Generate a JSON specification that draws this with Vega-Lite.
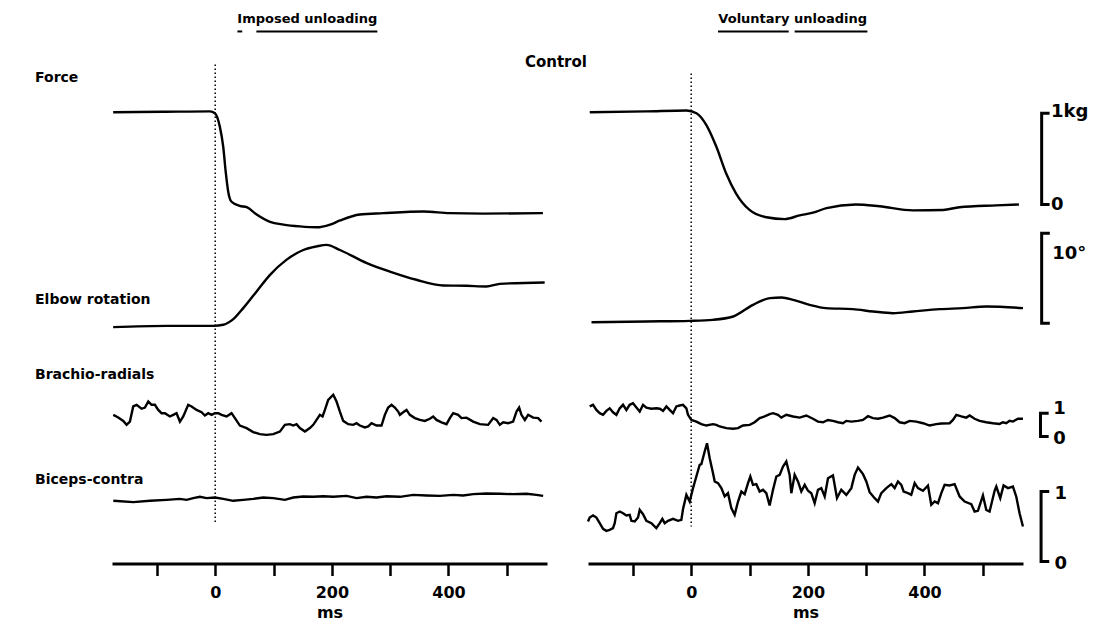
{
  "$schema": "https://vega.github.io/schema/vega-lite/v6.json",
  "padding": {"left": 35, "top": 12.5, "right": 5, "bottom": 5},
  "background": "white",
  "config": {"view": {"stroke": null}, "font": "DejaVu Sans", "text": {"color": "black"}},
  "datasets": {
    "traces": [
      {"condition":"Imposed","signal":"Force","ms":-175,"value":1.01},{"condition":"Imposed","signal":"Force","ms":-90,"value":1.015},{"condition":"Imposed","signal":"Force","ms":-9,"value":1.02},{"condition":"Imposed","signal":"Force","ms":-0.5,"value":1.0},{"condition":"Imposed","signal":"Force","ms":8,"value":0.85},{"condition":"Imposed","signal":"Force","ms":13.7,"value":0.635},{"condition":"Imposed","signal":"Force","ms":18.3,"value":0.34},{"condition":"Imposed","signal":"Force","ms":22.3,"value":0.14},{"condition":"Imposed","signal":"Force","ms":28,"value":0.03},{"condition":"Imposed","signal":"Force","ms":42,"value":-0.015},{"condition":"Imposed","signal":"Force","ms":54,"value":-0.03},{"condition":"Imposed","signal":"Force","ms":71,"value":-0.11},{"condition":"Imposed","signal":"Force","ms":94,"value":-0.19},{"condition":"Imposed","signal":"Force","ms":117,"value":-0.22},{"condition":"Imposed","signal":"Force","ms":145,"value":-0.24},{"condition":"Imposed","signal":"Force","ms":174,"value":-0.25},{"condition":"Imposed","signal":"Force","ms":197,"value":-0.22},{"condition":"Imposed","signal":"Force","ms":214,"value":-0.175},{"condition":"Imposed","signal":"Force","ms":248,"value":-0.11},{"condition":"Imposed","signal":"Force","ms":288,"value":-0.095},{"condition":"Imposed","signal":"Force","ms":357,"value":-0.077},{"condition":"Imposed","signal":"Force","ms":402,"value":-0.095},{"condition":"Imposed","signal":"Force","ms":459,"value":-0.1},{"condition":"Imposed","signal":"Force","ms":562,"value":-0.095},

      {"condition":"Voluntary","signal":"Force","ms":-174,"value":1.01},{"condition":"Voluntary","signal":"Force","ms":-77,"value":1.02},{"condition":"Voluntary","signal":"Force","ms":-8,"value":1.03},{"condition":"Voluntary","signal":"Force","ms":9,"value":1.0},{"condition":"Voluntary","signal":"Force","ms":26,"value":0.87},{"condition":"Voluntary","signal":"Force","ms":43,"value":0.635},{"condition":"Voluntary","signal":"Force","ms":60,"value":0.34},{"condition":"Voluntary","signal":"Force","ms":77,"value":0.12},{"condition":"Voluntary","signal":"Force","ms":100,"value":-0.06},{"condition":"Voluntary","signal":"Force","ms":129,"value":-0.14},{"condition":"Voluntary","signal":"Force","ms":160,"value":-0.16},{"condition":"Voluntary","signal":"Force","ms":186,"value":-0.12},{"condition":"Voluntary","signal":"Force","ms":209,"value":-0.09},{"condition":"Voluntary","signal":"Force","ms":232,"value":-0.04},{"condition":"Voluntary","signal":"Force","ms":282,"value":0.0},{"condition":"Voluntary","signal":"Force","ms":323,"value":-0.02},{"condition":"Voluntary","signal":"Force","ms":380,"value":-0.065},{"condition":"Voluntary","signal":"Force","ms":432,"value":-0.06},{"condition":"Voluntary","signal":"Force","ms":460,"value":-0.03},{"condition":"Voluntary","signal":"Force","ms":523,"value":-0.01},{"condition":"Voluntary","signal":"Force","ms":562,"value":0.0},

      {"condition":"Imposed","signal":"Elbow","ms":-175,"value":-0.07},{"condition":"Imposed","signal":"Elbow","ms":-83,"value":0.07},{"condition":"Imposed","signal":"Elbow","ms":-3,"value":0.07},{"condition":"Imposed","signal":"Elbow","ms":14,"value":0.19},{"condition":"Imposed","signal":"Elbow","ms":31,"value":0.81},{"condition":"Imposed","signal":"Elbow","ms":48,"value":2.04},{"condition":"Imposed","signal":"Elbow","ms":71,"value":3.9},{"condition":"Imposed","signal":"Elbow","ms":94,"value":5.74},{"condition":"Imposed","signal":"Elbow","ms":122,"value":7.4},{"condition":"Imposed","signal":"Elbow","ms":151,"value":8.5},{"condition":"Imposed","signal":"Elbow","ms":174,"value":8.9},{"condition":"Imposed","signal":"Elbow","ms":191,"value":9.07},{"condition":"Imposed","signal":"Elbow","ms":214,"value":8.5},{"condition":"Imposed","signal":"Elbow","ms":260,"value":7.04},{"condition":"Imposed","signal":"Elbow","ms":299.5,"value":6.1},{"condition":"Imposed","signal":"Elbow","ms":345,"value":5.19},{"condition":"Imposed","signal":"Elbow","ms":391,"value":4.56},{"condition":"Imposed","signal":"Elbow","ms":431,"value":4.52},{"condition":"Imposed","signal":"Elbow","ms":465,"value":4.44},{"condition":"Imposed","signal":"Elbow","ms":488,"value":4.74},{"condition":"Imposed","signal":"Elbow","ms":565,"value":4.89},

      {"condition":"Voluntary","signal":"Elbow","ms":-171,"value":0.48},{"condition":"Voluntary","signal":"Elbow","ms":-77,"value":0.56},{"condition":"Voluntary","signal":"Elbow","ms":-2.5,"value":0.63},{"condition":"Voluntary","signal":"Elbow","ms":37,"value":0.74},{"condition":"Voluntary","signal":"Elbow","ms":72,"value":1.11},{"condition":"Voluntary","signal":"Elbow","ms":106,"value":2.41},{"condition":"Voluntary","signal":"Elbow","ms":135,"value":3.15},{"condition":"Voluntary","signal":"Elbow","ms":155,"value":3.22},{"condition":"Voluntary","signal":"Elbow","ms":175,"value":2.96},{"condition":"Voluntary","signal":"Elbow","ms":203,"value":2.41},{"condition":"Voluntary","signal":"Elbow","ms":231,"value":2.04},{"condition":"Voluntary","signal":"Elbow","ms":277,"value":1.93},{"condition":"Voluntary","signal":"Elbow","ms":312,"value":1.67},{"condition":"Voluntary","signal":"Elbow","ms":346,"value":1.48},{"condition":"Voluntary","signal":"Elbow","ms":380,"value":1.67},{"condition":"Voluntary","signal":"Elbow","ms":426,"value":1.93},{"condition":"Voluntary","signal":"Elbow","ms":466,"value":2.04},{"condition":"Voluntary","signal":"Elbow","ms":506,"value":2.22},{"condition":"Voluntary","signal":"Elbow","ms":569,"value":2.04},

      {"condition":"Imposed","signal":"Brachio","ms":-174.8,"value":0.93},{"condition":"Imposed","signal":"Brachio","ms":-166.3,"value":0.815},{"condition":"Imposed","signal":"Brachio","ms":-157.7,"value":0.67},{"condition":"Imposed","signal":"Brachio","ms":-152,"value":0.5},{"condition":"Imposed","signal":"Brachio","ms":-146.3,"value":0.64},{"condition":"Imposed","signal":"Brachio","ms":-140.6,"value":1.29},{"condition":"Imposed","signal":"Brachio","ms":-134.8,"value":1.36},{"condition":"Imposed","signal":"Brachio","ms":-126.3,"value":1.19},{"condition":"Imposed","signal":"Brachio","ms":-120.5,"value":1.24},{"condition":"Imposed","signal":"Brachio","ms":-114.8,"value":1.5},{"condition":"Imposed","signal":"Brachio","ms":-109.1,"value":1.36},{"condition":"Imposed","signal":"Brachio","ms":-103.4,"value":1.36},{"condition":"Imposed","signal":"Brachio","ms":-97.7,"value":1.14},{"condition":"Imposed","signal":"Brachio","ms":-92,"value":1.0},{"condition":"Imposed","signal":"Brachio","ms":-86.3,"value":1.0},{"condition":"Imposed","signal":"Brachio","ms":-77.7,"value":0.86},{"condition":"Imposed","signal":"Brachio","ms":-72,"value":0.93},{"condition":"Imposed","signal":"Brachio","ms":-66.3,"value":1.0},{"condition":"Imposed","signal":"Brachio","ms":-60.5,"value":0.64},{"condition":"Imposed","signal":"Brachio","ms":-54.8,"value":0.86},{"condition":"Imposed","signal":"Brachio","ms":-46.3,"value":1.36},{"condition":"Imposed","signal":"Brachio","ms":-40.5,"value":1.29},{"condition":"Imposed","signal":"Brachio","ms":-32,"value":1.14},{"condition":"Imposed","signal":"Brachio","ms":-23.4,"value":1.04},{"condition":"Imposed","signal":"Brachio","ms":-17.7,"value":0.9},{"condition":"Imposed","signal":"Brachio","ms":-12,"value":1.0},{"condition":"Imposed","signal":"Brachio","ms":-6.2,"value":0.93},{"condition":"Imposed","signal":"Brachio","ms":-0.5,"value":1.0},{"condition":"Imposed","signal":"Brachio","ms":5.2,"value":1.0},{"condition":"Imposed","signal":"Brachio","ms":10.9,"value":0.93},{"condition":"Imposed","signal":"Brachio","ms":19.5,"value":0.86},{"condition":"Imposed","signal":"Brachio","ms":28,"value":1.0},{"condition":"Imposed","signal":"Brachio","ms":33.8,"value":0.79},{"condition":"Imposed","signal":"Brachio","ms":42.3,"value":0.47},{"condition":"Imposed","signal":"Brachio","ms":53.8,"value":0.36},{"condition":"Imposed","signal":"Brachio","ms":65.2,"value":0.19},{"condition":"Imposed","signal":"Brachio","ms":76.6,"value":0.1},{"condition":"Imposed","signal":"Brachio","ms":88,"value":0.07},{"condition":"Imposed","signal":"Brachio","ms":99.5,"value":0.1},{"condition":"Imposed","signal":"Brachio","ms":110.9,"value":0.21},{"condition":"Imposed","signal":"Brachio","ms":119.5,"value":0.5},{"condition":"Imposed","signal":"Brachio","ms":128,"value":0.53},{"condition":"Imposed","signal":"Brachio","ms":133.8,"value":0.47},{"condition":"Imposed","signal":"Brachio","ms":139.5,"value":0.53},{"condition":"Imposed","signal":"Brachio","ms":145.2,"value":0.36},{"condition":"Imposed","signal":"Brachio","ms":153.8,"value":0.21},{"condition":"Imposed","signal":"Brachio","ms":162.3,"value":0.36},{"condition":"Imposed","signal":"Brachio","ms":168.1,"value":0.5},{"condition":"Imposed","signal":"Brachio","ms":173.8,"value":0.71},{"condition":"Imposed","signal":"Brachio","ms":179.5,"value":0.93},{"condition":"Imposed","signal":"Brachio","ms":184.1,"value":0.86},{"condition":"Imposed","signal":"Brachio","ms":188.1,"value":1.14},{"condition":"Imposed","signal":"Brachio","ms":193.8,"value":1.57},{"condition":"Imposed","signal":"Brachio","ms":202.4,"value":1.79},{"condition":"Imposed","signal":"Brachio","ms":208.1,"value":1.5},{"condition":"Imposed","signal":"Brachio","ms":213.8,"value":1.07},{"condition":"Imposed","signal":"Brachio","ms":219.5,"value":0.67},{"condition":"Imposed","signal":"Brachio","ms":228.1,"value":0.53},{"condition":"Imposed","signal":"Brachio","ms":236.6,"value":0.5},{"condition":"Imposed","signal":"Brachio","ms":242.4,"value":0.57},{"condition":"Imposed","signal":"Brachio","ms":248.1,"value":0.47},{"condition":"Imposed","signal":"Brachio","ms":256.6,"value":0.39},{"condition":"Imposed","signal":"Brachio","ms":262.4,"value":0.43},{"condition":"Imposed","signal":"Brachio","ms":268.1,"value":0.57},{"condition":"Imposed","signal":"Brachio","ms":276.6,"value":0.47},{"condition":"Imposed","signal":"Brachio","ms":285.2,"value":0.47},{"condition":"Imposed","signal":"Brachio","ms":290.9,"value":0.93},{"condition":"Imposed","signal":"Brachio","ms":296.6,"value":1.24},{"condition":"Imposed","signal":"Brachio","ms":302.4,"value":1.36},{"condition":"Imposed","signal":"Brachio","ms":308.1,"value":1.24},{"condition":"Imposed","signal":"Brachio","ms":313.8,"value":1.07},{"condition":"Imposed","signal":"Brachio","ms":316.7,"value":0.93},{"condition":"Imposed","signal":"Brachio","ms":322.4,"value":1.04},{"condition":"Imposed","signal":"Brachio","ms":328.1,"value":1.14},{"condition":"Imposed","signal":"Brachio","ms":333.8,"value":0.93},{"condition":"Imposed","signal":"Brachio","ms":342.4,"value":0.79},{"condition":"Imposed","signal":"Brachio","ms":351,"value":0.71},{"condition":"Imposed","signal":"Brachio","ms":359.5,"value":0.67},{"condition":"Imposed","signal":"Brachio","ms":368.1,"value":0.76},{"condition":"Imposed","signal":"Brachio","ms":373.8,"value":0.86},{"condition":"Imposed","signal":"Brachio","ms":379.5,"value":0.71},{"condition":"Imposed","signal":"Brachio","ms":388.1,"value":0.61},{"condition":"Imposed","signal":"Brachio","ms":396.7,"value":0.53},{"condition":"Imposed","signal":"Brachio","ms":402.4,"value":0.79},{"condition":"Imposed","signal":"Brachio","ms":408.1,"value":1.0},{"condition":"Imposed","signal":"Brachio","ms":416.6,"value":0.93},{"condition":"Imposed","signal":"Brachio","ms":422.4,"value":0.79},{"condition":"Imposed","signal":"Brachio","ms":430.9,"value":0.81},{"condition":"Imposed","signal":"Brachio","ms":442.4,"value":0.64},{"condition":"Imposed","signal":"Brachio","ms":453.8,"value":0.53},{"condition":"Imposed","signal":"Brachio","ms":468.1,"value":0.5},{"condition":"Imposed","signal":"Brachio","ms":476.7,"value":0.79},{"condition":"Imposed","signal":"Brachio","ms":482.4,"value":0.71},{"condition":"Imposed","signal":"Brachio","ms":488.1,"value":0.5},{"condition":"Imposed","signal":"Brachio","ms":493.8,"value":0.61},{"condition":"Imposed","signal":"Brachio","ms":502.4,"value":0.57},{"condition":"Imposed","signal":"Brachio","ms":510.9,"value":0.64},{"condition":"Imposed","signal":"Brachio","ms":516.7,"value":1.07},{"condition":"Imposed","signal":"Brachio","ms":521.2,"value":1.24},{"condition":"Imposed","signal":"Brachio","ms":525.2,"value":0.93},{"condition":"Imposed","signal":"Brachio","ms":531,"value":0.71},{"condition":"Imposed","signal":"Brachio","ms":536.7,"value":0.93},{"condition":"Imposed","signal":"Brachio","ms":545.3,"value":0.81},{"condition":"Imposed","signal":"Brachio","ms":553.8,"value":0.79},{"condition":"Imposed","signal":"Brachio","ms":559.5,"value":0.64},

      {"condition":"Voluntary","signal":"Brachio","ms":-174.1,"value":1.29},{"condition":"Voluntary","signal":"Brachio","ms":-168.3,"value":1.36},{"condition":"Voluntary","signal":"Brachio","ms":-162.6,"value":1.14},{"condition":"Voluntary","signal":"Brachio","ms":-156.9,"value":1.0},{"condition":"Voluntary","signal":"Brachio","ms":-151.2,"value":0.93},{"condition":"Voluntary","signal":"Brachio","ms":-145.5,"value":1.1},{"condition":"Voluntary","signal":"Brachio","ms":-139.8,"value":1.21},{"condition":"Voluntary","signal":"Brachio","ms":-134.1,"value":1.04},{"condition":"Voluntary","signal":"Brachio","ms":-128.3,"value":0.93},{"condition":"Voluntary","signal":"Brachio","ms":-122.6,"value":1.21},{"condition":"Voluntary","signal":"Brachio","ms":-116.9,"value":1.36},{"condition":"Voluntary","signal":"Brachio","ms":-111.2,"value":1.14},{"condition":"Voluntary","signal":"Brachio","ms":-105.5,"value":1.36},{"condition":"Voluntary","signal":"Brachio","ms":-99.8,"value":1.43},{"condition":"Voluntary","signal":"Brachio","ms":-94,"value":1.24},{"condition":"Voluntary","signal":"Brachio","ms":-88.3,"value":1.07},{"condition":"Voluntary","signal":"Brachio","ms":-82.6,"value":1.36},{"condition":"Voluntary","signal":"Brachio","ms":-76.9,"value":1.24},{"condition":"Voluntary","signal":"Brachio","ms":-68.3,"value":1.19},{"condition":"Voluntary","signal":"Brachio","ms":-59.8,"value":1.21},{"condition":"Voluntary","signal":"Brachio","ms":-54,"value":1.19},{"condition":"Voluntary","signal":"Brachio","ms":-48.3,"value":1.1},{"condition":"Voluntary","signal":"Brachio","ms":-42.6,"value":1.29},{"condition":"Voluntary","signal":"Brachio","ms":-36.9,"value":1.14},{"condition":"Voluntary","signal":"Brachio","ms":-31.2,"value":1.0},{"condition":"Voluntary","signal":"Brachio","ms":-25.5,"value":1.29},{"condition":"Voluntary","signal":"Brachio","ms":-19.8,"value":1.33},{"condition":"Voluntary","signal":"Brachio","ms":-14,"value":1.36},{"condition":"Voluntary","signal":"Brachio","ms":-8.3,"value":1.21},{"condition":"Voluntary","signal":"Brachio","ms":-5.5,"value":0.93},{"condition":"Voluntary","signal":"Brachio","ms":0.3,"value":0.71},{"condition":"Voluntary","signal":"Brachio","ms":8.8,"value":0.64},{"condition":"Voluntary","signal":"Brachio","ms":17.4,"value":0.53},{"condition":"Voluntary","signal":"Brachio","ms":26,"value":0.47},{"condition":"Voluntary","signal":"Brachio","ms":37.4,"value":0.53},{"condition":"Voluntary","signal":"Brachio","ms":43.1,"value":0.5},{"condition":"Voluntary","signal":"Brachio","ms":48.8,"value":0.43},{"condition":"Voluntary","signal":"Brachio","ms":60.3,"value":0.36},{"condition":"Voluntary","signal":"Brachio","ms":71.7,"value":0.33},{"condition":"Voluntary","signal":"Brachio","ms":80.3,"value":0.36},{"condition":"Voluntary","signal":"Brachio","ms":88.8,"value":0.47},{"condition":"Voluntary","signal":"Brachio","ms":100.3,"value":0.5},{"condition":"Voluntary","signal":"Brachio","ms":108.8,"value":0.61},{"condition":"Voluntary","signal":"Brachio","ms":117.4,"value":0.79},{"condition":"Voluntary","signal":"Brachio","ms":126,"value":0.86},{"condition":"Voluntary","signal":"Brachio","ms":134.5,"value":0.96},{"condition":"Voluntary","signal":"Brachio","ms":140.3,"value":1.0},{"condition":"Voluntary","signal":"Brachio","ms":148.8,"value":0.93},{"condition":"Voluntary","signal":"Brachio","ms":154.6,"value":0.81},{"condition":"Voluntary","signal":"Brachio","ms":163.1,"value":0.93},{"condition":"Voluntary","signal":"Brachio","ms":174.6,"value":0.86},{"condition":"Voluntary","signal":"Brachio","ms":186,"value":0.81},{"condition":"Voluntary","signal":"Brachio","ms":197.4,"value":0.9},{"condition":"Voluntary","signal":"Brachio","ms":208.8,"value":0.76},{"condition":"Voluntary","signal":"Brachio","ms":217.4,"value":0.64},{"condition":"Voluntary","signal":"Brachio","ms":226,"value":0.61},{"condition":"Voluntary","signal":"Brachio","ms":234.5,"value":0.71},{"condition":"Voluntary","signal":"Brachio","ms":243.1,"value":0.67},{"condition":"Voluntary","signal":"Brachio","ms":251.7,"value":0.61},{"condition":"Voluntary","signal":"Brachio","ms":260.3,"value":0.57},{"condition":"Voluntary","signal":"Brachio","ms":266,"value":0.67},{"condition":"Voluntary","signal":"Brachio","ms":274.6,"value":0.64},{"condition":"Voluntary","signal":"Brachio","ms":286,"value":0.67},{"condition":"Voluntary","signal":"Brachio","ms":294.6,"value":0.71},{"condition":"Voluntary","signal":"Brachio","ms":303.1,"value":0.87},{"condition":"Voluntary","signal":"Brachio","ms":311.7,"value":0.79},{"condition":"Voluntary","signal":"Brachio","ms":320.3,"value":0.76},{"condition":"Voluntary","signal":"Brachio","ms":328.9,"value":0.81},{"condition":"Voluntary","signal":"Brachio","ms":340.3,"value":0.9},{"condition":"Voluntary","signal":"Brachio","ms":348.9,"value":0.79},{"condition":"Voluntary","signal":"Brachio","ms":357.4,"value":0.61},{"condition":"Voluntary","signal":"Brachio","ms":366,"value":0.57},{"condition":"Voluntary","signal":"Brachio","ms":374.6,"value":0.67},{"condition":"Voluntary","signal":"Brachio","ms":386,"value":0.64},{"condition":"Voluntary","signal":"Brachio","ms":397.5,"value":0.57},{"condition":"Voluntary","signal":"Brachio","ms":408.9,"value":0.47},{"condition":"Voluntary","signal":"Brachio","ms":420.3,"value":0.53},{"condition":"Voluntary","signal":"Brachio","ms":428.9,"value":0.56},{"condition":"Voluntary","signal":"Brachio","ms":443.2,"value":0.57},{"condition":"Voluntary","signal":"Brachio","ms":448.9,"value":0.71},{"condition":"Voluntary","signal":"Brachio","ms":454.6,"value":0.93},{"condition":"Voluntary","signal":"Brachio","ms":463.2,"value":0.86},{"condition":"Voluntary","signal":"Brachio","ms":471.7,"value":0.81},{"condition":"Voluntary","signal":"Brachio","ms":477.5,"value":0.9},{"condition":"Voluntary","signal":"Brachio","ms":486,"value":0.76},{"condition":"Voluntary","signal":"Brachio","ms":494.6,"value":0.67},{"condition":"Voluntary","signal":"Brachio","ms":506,"value":0.61},{"condition":"Voluntary","signal":"Brachio","ms":517.5,"value":0.57},{"condition":"Voluntary","signal":"Brachio","ms":528.9,"value":0.54},{"condition":"Voluntary","signal":"Brachio","ms":534.6,"value":0.61},{"condition":"Voluntary","signal":"Brachio","ms":540.3,"value":0.57},{"condition":"Voluntary","signal":"Brachio","ms":546,"value":0.67},{"condition":"Voluntary","signal":"Brachio","ms":551.7,"value":0.64},{"condition":"Voluntary","signal":"Brachio","ms":560.3,"value":0.76},{"condition":"Voluntary","signal":"Brachio","ms":568.9,"value":0.76},

      {"condition":"Imposed","signal":"Biceps","ms":-174.8,"value":0.867},{"condition":"Imposed","signal":"Biceps","ms":-140.6,"value":0.848},{"condition":"Imposed","signal":"Biceps","ms":-112,"value":0.867},{"condition":"Imposed","signal":"Biceps","ms":-83.4,"value":0.881},{"condition":"Imposed","signal":"Biceps","ms":-60.5,"value":0.895},{"condition":"Imposed","signal":"Biceps","ms":-49.1,"value":0.881},{"condition":"Imposed","signal":"Biceps","ms":-37.7,"value":0.905},{"condition":"Imposed","signal":"Biceps","ms":-26.3,"value":0.924},{"condition":"Imposed","signal":"Biceps","ms":-14.8,"value":0.905},{"condition":"Imposed","signal":"Biceps","ms":-0.5,"value":0.914},{"condition":"Imposed","signal":"Biceps","ms":13.8,"value":0.895},{"condition":"Imposed","signal":"Biceps","ms":30.9,"value":0.867},{"condition":"Imposed","signal":"Biceps","ms":48,"value":0.881},{"condition":"Imposed","signal":"Biceps","ms":65.2,"value":0.895},{"condition":"Imposed","signal":"Biceps","ms":82.3,"value":0.914},{"condition":"Imposed","signal":"Biceps","ms":99.5,"value":0.905},{"condition":"Imposed","signal":"Biceps","ms":119.5,"value":0.881},{"condition":"Imposed","signal":"Biceps","ms":133.8,"value":0.914},{"condition":"Imposed","signal":"Biceps","ms":150.9,"value":0.929},{"condition":"Imposed","signal":"Biceps","ms":168.1,"value":0.924},{"condition":"Imposed","signal":"Biceps","ms":185.2,"value":0.933},{"condition":"Imposed","signal":"Biceps","ms":202.4,"value":0.924},{"condition":"Imposed","signal":"Biceps","ms":225.2,"value":0.938},{"condition":"Imposed","signal":"Biceps","ms":242.4,"value":0.905},{"condition":"Imposed","signal":"Biceps","ms":259.5,"value":0.924},{"condition":"Imposed","signal":"Biceps","ms":276.6,"value":0.914},{"condition":"Imposed","signal":"Biceps","ms":293.8,"value":0.933},{"condition":"Imposed","signal":"Biceps","ms":316.7,"value":0.924},{"condition":"Imposed","signal":"Biceps","ms":339.5,"value":0.952},{"condition":"Imposed","signal":"Biceps","ms":362.4,"value":0.943},{"condition":"Imposed","signal":"Biceps","ms":385.2,"value":0.938},{"condition":"Imposed","signal":"Biceps","ms":408.1,"value":0.952},{"condition":"Imposed","signal":"Biceps","ms":425.2,"value":0.943},{"condition":"Imposed","signal":"Biceps","ms":442.4,"value":0.962},{"condition":"Imposed","signal":"Biceps","ms":465.2,"value":0.971},{"condition":"Imposed","signal":"Biceps","ms":488.1,"value":0.967},{"condition":"Imposed","signal":"Biceps","ms":510.9,"value":0.962},{"condition":"Imposed","signal":"Biceps","ms":533.8,"value":0.967},{"condition":"Imposed","signal":"Biceps","ms":550.9,"value":0.952},{"condition":"Imposed","signal":"Biceps","ms":562.4,"value":0.938},

      {"condition":"Voluntary","signal":"Biceps","ms":-177,"value":0.571},{"condition":"Voluntary","signal":"Biceps","ms":-174.1,"value":0.628},{"condition":"Voluntary","signal":"Biceps","ms":-168.3,"value":0.657},{"condition":"Voluntary","signal":"Biceps","ms":-162.6,"value":0.628},{"condition":"Voluntary","signal":"Biceps","ms":-156.9,"value":0.548},{"condition":"Voluntary","signal":"Biceps","ms":-151.2,"value":0.467},{"condition":"Voluntary","signal":"Biceps","ms":-145.5,"value":0.438},{"condition":"Voluntary","signal":"Biceps","ms":-139.8,"value":0.452},{"condition":"Voluntary","signal":"Biceps","ms":-134.1,"value":0.476},{"condition":"Voluntary","signal":"Biceps","ms":-131.2,"value":0.548},{"condition":"Voluntary","signal":"Biceps","ms":-128.3,"value":0.69},{"condition":"Voluntary","signal":"Biceps","ms":-122.6,"value":0.714},{"condition":"Voluntary","signal":"Biceps","ms":-116.9,"value":0.69},{"condition":"Voluntary","signal":"Biceps","ms":-111.2,"value":0.657},{"condition":"Voluntary","signal":"Biceps","ms":-105.5,"value":0.667},{"condition":"Voluntary","signal":"Biceps","ms":-102.6,"value":0.581},{"condition":"Voluntary","signal":"Biceps","ms":-96.9,"value":0.571},{"condition":"Voluntary","signal":"Biceps","ms":-91.2,"value":0.628},{"condition":"Voluntary","signal":"Biceps","ms":-88.3,"value":0.738},{"condition":"Voluntary","signal":"Biceps","ms":-82.6,"value":0.676},{"condition":"Voluntary","signal":"Biceps","ms":-76.9,"value":0.581},{"condition":"Voluntary","signal":"Biceps","ms":-68.3,"value":0.548},{"condition":"Voluntary","signal":"Biceps","ms":-59.8,"value":0.476},{"condition":"Voluntary","signal":"Biceps","ms":-54,"value":0.548},{"condition":"Voluntary","signal":"Biceps","ms":-49.5,"value":0.609},{"condition":"Voluntary","signal":"Biceps","ms":-45.5,"value":0.548},{"condition":"Voluntary","signal":"Biceps","ms":-39.8,"value":0.581},{"condition":"Voluntary","signal":"Biceps","ms":-31.2,"value":0.609},{"condition":"Voluntary","signal":"Biceps","ms":-22.6,"value":0.581},{"condition":"Voluntary","signal":"Biceps","ms":-16.9,"value":0.595},{"condition":"Voluntary","signal":"Biceps","ms":-14,"value":0.752},{"condition":"Voluntary","signal":"Biceps","ms":-8.3,"value":0.952},{"condition":"Voluntary","signal":"Biceps","ms":-2.6,"value":0.857},{"condition":"Voluntary","signal":"Biceps","ms":3.1,"value":1.048},{"condition":"Voluntary","signal":"Biceps","ms":8.8,"value":1.214},{"condition":"Voluntary","signal":"Biceps","ms":14.5,"value":1.381},{"condition":"Voluntary","signal":"Biceps","ms":17.4,"value":1.39},{"condition":"Voluntary","signal":"Biceps","ms":23.1,"value":1.571},{"condition":"Voluntary","signal":"Biceps","ms":27.1,"value":1.69},{"condition":"Voluntary","signal":"Biceps","ms":31.7,"value":1.476},{"condition":"Voluntary","signal":"Biceps","ms":37.4,"value":1.262},{"condition":"Voluntary","signal":"Biceps","ms":40.3,"value":1.143},{"condition":"Voluntary","signal":"Biceps","ms":46,"value":1.119},{"condition":"Voluntary","signal":"Biceps","ms":51.7,"value":1.048},{"condition":"Voluntary","signal":"Biceps","ms":57.4,"value":0.929},{"condition":"Voluntary","signal":"Biceps","ms":63.1,"value":0.976},{"condition":"Voluntary","signal":"Biceps","ms":68.8,"value":0.762},{"condition":"Voluntary","signal":"Biceps","ms":74.5,"value":0.667},{"condition":"Voluntary","signal":"Biceps","ms":80.3,"value":0.857},{"condition":"Voluntary","signal":"Biceps","ms":86,"value":1.0},{"condition":"Voluntary","signal":"Biceps","ms":91.7,"value":0.962},{"condition":"Voluntary","signal":"Biceps","ms":97.4,"value":1.119},{"condition":"Voluntary","signal":"Biceps","ms":101.4,"value":1.214},{"condition":"Voluntary","signal":"Biceps","ms":106,"value":1.095},{"condition":"Voluntary","signal":"Biceps","ms":111.7,"value":1.105},{"condition":"Voluntary","signal":"Biceps","ms":117.4,"value":1.0},{"condition":"Voluntary","signal":"Biceps","ms":123.1,"value":1.024},{"condition":"Voluntary","signal":"Biceps","ms":128.8,"value":0.976},{"condition":"Voluntary","signal":"Biceps","ms":134.5,"value":0.8},{"condition":"Voluntary","signal":"Biceps","ms":140.3,"value":1.024},{"condition":"Voluntary","signal":"Biceps","ms":146,"value":1.214},{"condition":"Voluntary","signal":"Biceps","ms":151.7,"value":1.238},{"condition":"Voluntary","signal":"Biceps","ms":157.4,"value":1.357},{"condition":"Voluntary","signal":"Biceps","ms":163.1,"value":1.428},{"condition":"Voluntary","signal":"Biceps","ms":168.8,"value":1.238},{"condition":"Voluntary","signal":"Biceps","ms":171.7,"value":0.976},{"condition":"Voluntary","signal":"Biceps","ms":177.4,"value":1.238},{"condition":"Voluntary","signal":"Biceps","ms":183.1,"value":1.143},{"condition":"Voluntary","signal":"Biceps","ms":188.8,"value":1.0},{"condition":"Voluntary","signal":"Biceps","ms":194.6,"value":1.095},{"condition":"Voluntary","signal":"Biceps","ms":200.3,"value":1.01},{"condition":"Voluntary","signal":"Biceps","ms":206,"value":0.976},{"condition":"Voluntary","signal":"Biceps","ms":211.7,"value":0.833},{"condition":"Voluntary","signal":"Biceps","ms":217.4,"value":1.024},{"condition":"Voluntary","signal":"Biceps","ms":223.1,"value":1.048},{"condition":"Voluntary","signal":"Biceps","ms":228.9,"value":0.929},{"condition":"Voluntary","signal":"Biceps","ms":234.6,"value":1.19},{"condition":"Voluntary","signal":"Biceps","ms":243.1,"value":1.229},{"condition":"Voluntary","signal":"Biceps","ms":250,"value":0.905},{"condition":"Voluntary","signal":"Biceps","ms":257.4,"value":1.024},{"condition":"Voluntary","signal":"Biceps","ms":266,"value":0.952},{"condition":"Voluntary","signal":"Biceps","ms":274.6,"value":1.048},{"condition":"Voluntary","signal":"Biceps","ms":280.3,"value":1.238},{"condition":"Voluntary","signal":"Biceps","ms":286,"value":1.343},{"condition":"Voluntary","signal":"Biceps","ms":294.6,"value":1.248},{"condition":"Voluntary","signal":"Biceps","ms":300.3,"value":1.143},{"condition":"Voluntary","signal":"Biceps","ms":306,"value":0.99},{"condition":"Voluntary","signal":"Biceps","ms":314.6,"value":0.905},{"condition":"Voluntary","signal":"Biceps","ms":320.3,"value":0.857},{"condition":"Voluntary","signal":"Biceps","ms":326,"value":0.976},{"condition":"Voluntary","signal":"Biceps","ms":334.6,"value":1.048},{"condition":"Voluntary","signal":"Biceps","ms":343.2,"value":1.105},{"condition":"Voluntary","signal":"Biceps","ms":348.9,"value":1.048},{"condition":"Voluntary","signal":"Biceps","ms":354.6,"value":1.143},{"condition":"Voluntary","signal":"Biceps","ms":360.3,"value":1.095},{"condition":"Voluntary","signal":"Biceps","ms":364.3,"value":1.0},{"condition":"Voluntary","signal":"Biceps","ms":371.7,"value":0.976},{"condition":"Voluntary","signal":"Biceps","ms":377.4,"value":0.952},{"condition":"Voluntary","signal":"Biceps","ms":383.2,"value":1.119},{"condition":"Voluntary","signal":"Biceps","ms":388.9,"value":1.048},{"condition":"Voluntary","signal":"Biceps","ms":397.5,"value":1.01},{"condition":"Voluntary","signal":"Biceps","ms":406,"value":1.086},{"condition":"Voluntary","signal":"Biceps","ms":411.7,"value":0.81},{"condition":"Voluntary","signal":"Biceps","ms":417.5,"value":0.857},{"condition":"Voluntary","signal":"Biceps","ms":423.2,"value":0.833},{"condition":"Voluntary","signal":"Biceps","ms":428.9,"value":0.976},{"condition":"Voluntary","signal":"Biceps","ms":434.6,"value":1.095},{"condition":"Voluntary","signal":"Biceps","ms":443.2,"value":1.086},{"condition":"Voluntary","signal":"Biceps","ms":451.7,"value":1.105},{"condition":"Voluntary","signal":"Biceps","ms":460.3,"value":0.929},{"condition":"Voluntary","signal":"Biceps","ms":468.9,"value":0.857},{"condition":"Voluntary","signal":"Biceps","ms":480.3,"value":0.819},{"condition":"Voluntary","signal":"Biceps","ms":486,"value":0.714},{"condition":"Voluntary","signal":"Biceps","ms":491.7,"value":0.724},{"condition":"Voluntary","signal":"Biceps","ms":500.3,"value":0.943},{"condition":"Voluntary","signal":"Biceps","ms":506,"value":0.738},{"condition":"Voluntary","signal":"Biceps","ms":511.7,"value":0.714},{"condition":"Voluntary","signal":"Biceps","ms":520.3,"value":1.01},{"condition":"Voluntary","signal":"Biceps","ms":523.2,"value":1.071},{"condition":"Voluntary","signal":"Biceps","ms":530,"value":0.905},{"condition":"Voluntary","signal":"Biceps","ms":535.7,"value":1.086},{"condition":"Voluntary","signal":"Biceps","ms":543.2,"value":1.048},{"condition":"Voluntary","signal":"Biceps","ms":551.7,"value":1.071},{"condition":"Voluntary","signal":"Biceps","ms":557.4,"value":0.929},{"condition":"Voluntary","signal":"Biceps","ms":563.1,"value":0.69},{"condition":"Voluntary","signal":"Biceps","ms":568.9,"value":0.5}
    ],
    "labels": [
      {"signal":"Force","ms":-309,"value":1.38,"text":"Force"},
      {"signal":"Elbow","ms":-309,"value":2.89,"text":"Elbow rotation"},
      {"signal":"Brachio","ms":-309,"value":2.62,"text":"Brachio-radials"},
      {"signal":"Biceps","ms":-309,"value":1.17,"text":"Biceps-contra"}
    ],
    "titles": [
      {"condition":"Imposed","ms":158,"value":2.026,"text":"Imposed unloading"},
      {"condition":"Voluntary","ms":174,"value":2.026,"text":"Voluntary unloading"}
    ],
    "control": [
      {"ms":-232,"value":1.566,"text":"Control"}
    ],
    "underlines": [
      {"condition":"Imposed","ms":38.1,"ms2":46.3,"value":1.895},
      {"condition":"Imposed","ms":70.6,"ms2":278.1,"value":1.895},
      {"condition":"Voluntary","ms":45.9,"ms2":167.2,"value":1.895},
      {"condition":"Voluntary","ms":177.4,"ms2":302.1,"value":1.895}
    ],
    "onset": [
      {"condition":"Imposed","ms":0,"value":7.1,"value2":0.53},
      {"condition":"Voluntary","ms":0,"value":6.97,"value2":0.5}
    ],
    "bars": [
      {"signal":"Force","k":1,"ms":614.6,"value":1},{"signal":"Force","k":2,"ms":601,"value":1},{"signal":"Force","k":3,"ms":601,"value":0},{"signal":"Force","k":4,"ms":614.6,"value":0},
      {"signal":"Elbow","k":1,"ms":615,"value":10.37},{"signal":"Elbow","k":2,"ms":601,"value":10.37},{"signal":"Elbow","k":3,"ms":601,"value":0.37},{"signal":"Elbow","k":4,"ms":615,"value":0.37},
      {"signal":"Brachio","k":1,"ms":613,"value":1},{"signal":"Brachio","k":2,"ms":599,"value":1},{"signal":"Brachio","k":3,"ms":599,"value":0},{"signal":"Brachio","k":4,"ms":613,"value":0},
      {"signal":"Biceps","k":1,"ms":614,"value":1},{"signal":"Biceps","k":2,"ms":600,"value":1},{"signal":"Biceps","k":3,"ms":600,"value":0},{"signal":"Biceps","k":4,"ms":614,"value":0}
    ],
    "bartext": [
      {"signal":"Force","ms":617,"value":1.01,"text":"1kg"},
      {"signal":"Force","ms":617,"value":-0.01,"text":"0"},
      {"signal":"Elbow","ms":619,"value":8.1,"text":"10°"},
      {"signal":"Brachio","ms":621,"value":1.16,"text":"1"},
      {"signal":"Brachio","ms":621,"value":-0.09,"text":"0"},
      {"signal":"Biceps","ms":623,"value":0.96,"text":"1"},
      {"signal":"Biceps","ms":623,"value":-0.03,"text":"0"}
    ]
  },
  "hconcat": [
    {
      "width": 435,
      "height": 502,
      "layer": [
        {
          "encoding": {
            "x": {"field": "ms", "type": "quantitative", "scale": {"domain": [-177, 569], "nice": false, "zero": false}, "axis": {"values": [-100, 0, 100, 200, 300, 400, 500], "labelExpr": "datum.value % 200 === 0 ? datum.label : ''", "grid": false, "domainColor": "black", "domainWidth": 3, "tickColor": "black", "tickWidth": 2.5, "tickSize": 12, "labelFontSize": 16, "labelFontWeight": "bold", "labelColor": "black", "labelPadding": 9, "title": "ms", "titleFontSize": 16, "titleFontWeight": "bold", "titleColor": "black", "titlePadding": 4}},
            "y": {"field": "value", "type": "quantitative", "scale": {"domain": [-3.932, 1.566], "nice": false, "zero": false}, "axis": null}
          },
          "layer": [
            {"data": {"name": "traces"}, "transform": [{"filter": "datum.condition === 'Imposed' && datum.signal === 'Force'"}], "mark": {"type": "line", "color": "black", "strokeWidth": 2.4, "interpolate": "monotone"}},
            {"data": {"name": "labels"}, "transform": [{"filter": "datum.signal === 'Force'"}], "mark": {"type": "text", "align": "left", "baseline": "middle", "fontSize": 14, "fontWeight": "bold"}, "encoding": {"text": {"field": "text"}}},
            {"data": {"name": "titles"}, "transform": [{"filter": "datum.condition === 'Imposed'"}], "mark": {"type": "text", "align": "center", "baseline": "middle", "fontSize": 13, "fontWeight": "bold"}, "encoding": {"text": {"field": "text"}}},
            {"data": {"name": "underlines"}, "transform": [{"filter": "datum.condition === 'Imposed'"}], "mark": {"type": "rule", "color": "black", "strokeWidth": 2}, "encoding": {"x2": {"field": "ms2"}}}
          ]
        },
        {
          "encoding": {
            "x": {"field": "ms", "type": "quantitative", "scale": {"domain": [-177, 569], "nice": false, "zero": false}},
            "y": {"field": "value", "type": "quantitative", "scale": {"domain": [-26.33, 29.44], "nice": false, "zero": false}, "axis": null}
          },
          "layer": [
            {"data": {"name": "traces"}, "transform": [{"filter": "datum.condition === 'Imposed' && datum.signal === 'Elbow'"}], "mark": {"type": "line", "color": "black", "strokeWidth": 2.4, "interpolate": "monotone"}},
            {"data": {"name": "labels"}, "transform": [{"filter": "datum.signal === 'Elbow'"}], "mark": {"type": "text", "align": "left", "baseline": "middle", "fontSize": 14, "fontWeight": "bold"}, "encoding": {"text": {"field": "text"}}}
          ]
        },
        {
          "encoding": {
            "x": {"field": "ms", "type": "quantitative", "scale": {"domain": [-177, 569], "nice": false, "zero": false}},
            "y": {"field": "value", "type": "quantitative", "scale": {"domain": [-5.451, 16.094], "nice": false, "zero": false}, "axis": null}
          },
          "layer": [
            {"data": {"name": "traces"}, "transform": [{"filter": "datum.condition === 'Imposed' && datum.signal === 'Brachio'"}], "mark": {"type": "line", "color": "black", "strokeWidth": 2.4}},
            {"data": {"name": "labels"}, "transform": [{"filter": "datum.signal === 'Brachio'"}], "mark": {"type": "text", "align": "left", "baseline": "middle", "fontSize": 14, "fontWeight": "bold"}, "encoding": {"text": {"field": "text"}}}
          ]
        },
        {
          "encoding": {
            "x": {"field": "ms", "type": "quantitative", "scale": {"domain": [-177, 569], "nice": false, "zero": false}},
            "y": {"field": "value", "type": "quantitative", "scale": {"domain": [-0.0286, 7.143], "nice": false, "zero": false}, "axis": null}
          },
          "layer": [
            {"data": {"name": "traces"}, "transform": [{"filter": "datum.condition === 'Imposed' && datum.signal === 'Biceps'"}], "mark": {"type": "line", "color": "black", "strokeWidth": 2.4}},
            {"data": {"name": "labels"}, "transform": [{"filter": "datum.signal === 'Biceps'"}], "mark": {"type": "text", "align": "left", "baseline": "middle", "fontSize": 14, "fontWeight": "bold"}, "encoding": {"text": {"field": "text"}}},
            {"data": {"name": "onset"}, "transform": [{"filter": "datum.condition === 'Imposed'"}], "mark": {"type": "rule", "color": "black", "strokeWidth": 1.5, "strokeDash": [1.5, 2.5]}, "encoding": {"y2": {"field": "value2"}}}
          ]
        }
      ],
      "resolve": {"scale": {"y": "independent"}}
    },
    {
      "width": 435,
      "height": 502,
      "layer": [
        {
          "encoding": {
            "x": {"field": "ms", "type": "quantitative", "scale": {"domain": [-177, 569], "nice": false, "zero": false}, "axis": {"values": [-100, 0, 100, 200, 300, 400, 500], "labelExpr": "datum.value % 200 === 0 ? datum.label : ''", "grid": false, "domainColor": "black", "domainWidth": 3, "tickColor": "black", "tickWidth": 2.5, "tickSize": 12, "labelFontSize": 16, "labelFontWeight": "bold", "labelColor": "black", "labelPadding": 9, "title": "ms", "titleFontSize": 16, "titleFontWeight": "bold", "titleColor": "black", "titlePadding": 4}},
            "y": {"field": "value", "type": "quantitative", "scale": {"domain": [-3.932, 1.566], "nice": false, "zero": false}, "axis": null}
          },
          "layer": [
            {"data": {"name": "traces"}, "transform": [{"filter": "datum.condition === 'Voluntary' && datum.signal === 'Force'"}], "mark": {"type": "line", "color": "black", "strokeWidth": 2.4, "interpolate": "monotone"}},
            {"data": {"name": "titles"}, "transform": [{"filter": "datum.condition === 'Voluntary'"}], "mark": {"type": "text", "align": "center", "baseline": "middle", "fontSize": 13, "fontWeight": "bold"}, "encoding": {"text": {"field": "text"}}},
            {"data": {"name": "control"}, "mark": {"type": "text", "align": "center", "baseline": "middle", "fontSize": 15, "fontWeight": "bold"}, "encoding": {"text": {"field": "text"}}},
            {"data": {"name": "underlines"}, "transform": [{"filter": "datum.condition === 'Voluntary'"}], "mark": {"type": "rule", "color": "black", "strokeWidth": 2}, "encoding": {"x2": {"field": "ms2"}}},
            {"data": {"name": "bars"}, "transform": [{"filter": "datum.signal === 'Force'"}], "mark": {"type": "line", "color": "black", "strokeWidth": 3, "strokeJoin": "miter"}, "encoding": {"order": {"field": "k"}}},
            {"data": {"name": "bartext"}, "transform": [{"filter": "datum.signal === 'Force'"}], "mark": {"type": "text", "align": "left", "baseline": "middle", "fontSize": 18, "fontWeight": "bold"}, "encoding": {"text": {"field": "text"}}}
          ]
        },
        {
          "encoding": {
            "x": {"field": "ms", "type": "quantitative", "scale": {"domain": [-177, 569], "nice": false, "zero": false}},
            "y": {"field": "value", "type": "quantitative", "scale": {"domain": [-26.33, 29.44], "nice": false, "zero": false}, "axis": null}
          },
          "layer": [
            {"data": {"name": "traces"}, "transform": [{"filter": "datum.condition === 'Voluntary' && datum.signal === 'Elbow'"}], "mark": {"type": "line", "color": "black", "strokeWidth": 2.4, "interpolate": "monotone"}},
            {"data": {"name": "bars"}, "transform": [{"filter": "datum.signal === 'Elbow'"}], "mark": {"type": "line", "color": "black", "strokeWidth": 3, "strokeJoin": "miter"}, "encoding": {"order": {"field": "k"}}},
            {"data": {"name": "bartext"}, "transform": [{"filter": "datum.signal === 'Elbow'"}], "mark": {"type": "text", "align": "left", "baseline": "middle", "fontSize": 18, "fontWeight": "bold"}, "encoding": {"text": {"field": "text"}}}
          ]
        },
        {
          "encoding": {
            "x": {"field": "ms", "type": "quantitative", "scale": {"domain": [-177, 569], "nice": false, "zero": false}},
            "y": {"field": "value", "type": "quantitative", "scale": {"domain": [-5.451, 16.094], "nice": false, "zero": false}, "axis": null}
          },
          "layer": [
            {"data": {"name": "traces"}, "transform": [{"filter": "datum.condition === 'Voluntary' && datum.signal === 'Brachio'"}], "mark": {"type": "line", "color": "black", "strokeWidth": 2.4}},
            {"data": {"name": "bars"}, "transform": [{"filter": "datum.signal === 'Brachio'"}], "mark": {"type": "line", "color": "black", "strokeWidth": 3, "strokeJoin": "miter"}, "encoding": {"order": {"field": "k"}}},
            {"data": {"name": "bartext"}, "transform": [{"filter": "datum.signal === 'Brachio'"}], "mark": {"type": "text", "align": "left", "baseline": "middle", "fontSize": 18, "fontWeight": "bold"}, "encoding": {"text": {"field": "text"}}}
          ]
        },
        {
          "encoding": {
            "x": {"field": "ms", "type": "quantitative", "scale": {"domain": [-177, 569], "nice": false, "zero": false}},
            "y": {"field": "value", "type": "quantitative", "scale": {"domain": [-0.0286, 7.143], "nice": false, "zero": false}, "axis": null}
          },
          "layer": [
            {"data": {"name": "traces"}, "transform": [{"filter": "datum.condition === 'Voluntary' && datum.signal === 'Biceps'"}], "mark": {"type": "line", "color": "black", "strokeWidth": 2.4}},
            {"data": {"name": "onset"}, "transform": [{"filter": "datum.condition === 'Voluntary'"}], "mark": {"type": "rule", "color": "black", "strokeWidth": 1.5, "strokeDash": [1.5, 2.5]}, "encoding": {"y2": {"field": "value2"}}},
            {"data": {"name": "bars"}, "transform": [{"filter": "datum.signal === 'Biceps'"}], "mark": {"type": "line", "color": "black", "strokeWidth": 3, "strokeJoin": "miter"}, "encoding": {"order": {"field": "k"}}},
            {"data": {"name": "bartext"}, "transform": [{"filter": "datum.signal === 'Biceps'"}], "mark": {"type": "text", "align": "left", "baseline": "middle", "fontSize": 18, "fontWeight": "bold"}, "encoding": {"text": {"field": "text"}}}
          ]
        }
      ],
      "resolve": {"scale": {"y": "independent"}}
    }
  ],
  "spacing": 41,
  "bounds": "flush"
}
